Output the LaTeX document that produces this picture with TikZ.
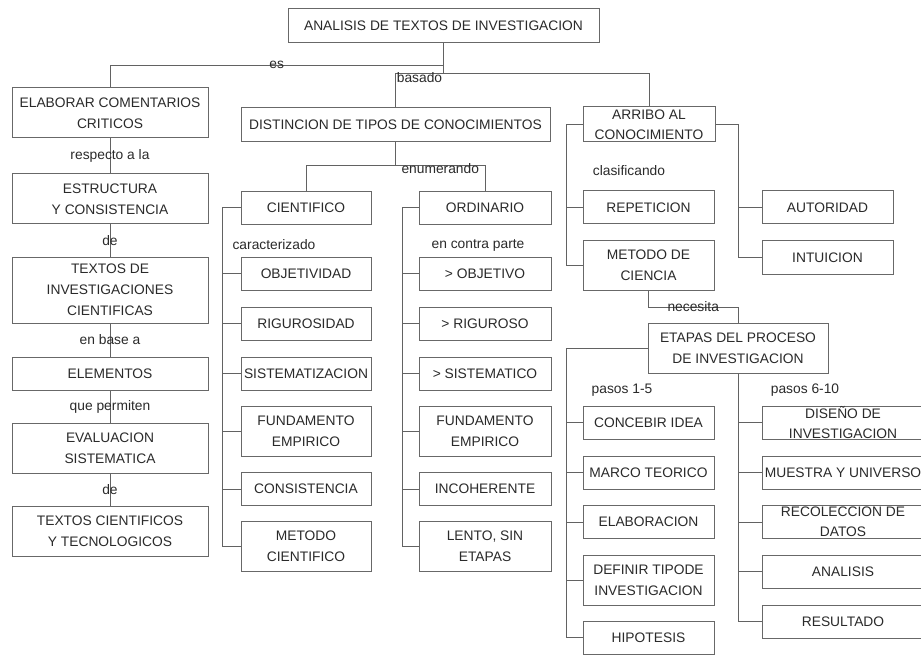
\documentclass[tikz,border=0pt]{standalone}
\usepackage{fontspec}
\setmainfont{Liberation Sans}
\begin{document}
\newcommand\mapfont{\fontsize{13.8}{21}\selectfont}
\definecolor{bdc}{HTML}{686868}
\definecolor{lnc}{HTML}{626262}
\definecolor{txc}{HTML}{2A2A2A}
\begin{tikzpicture}[x=1pt,y=-1pt,
  every node/.style={font=\mapfont, text=txc},
  box/.style={draw=bdc, line width=1pt, inner sep=0pt, align=center},
  frame/.style={draw=bdc, line width=1pt, inner sep=0pt},
  btext/.style={inner sep=0pt, align=center},
  link/.style={draw=lnc, line width=1pt},
  lbl/.style={inner sep=0pt},
  sz/.style 2 args={minimum width=#1pt, minimum height=#2pt},
]
\fill[white] (0,0) rectangle (921,655);
\useasboundingbox (0,0) rectangle (921,655);
\clip (0,0) rectangle (921,655);

% root
\node[box,sz={311}{34}] (top) at (443.5,26) {ANALISIS DE TEXTOS DE INVESTIGACION};

% left chain
\node[box,sz={196}{50}] (elab)   at (110,113)   {ELABORAR COMENTARIOS\\CRITICOS};
\node[box,sz={196}{50}] (estr)   at (110,199)   {ESTRUCTURA\\Y CONSISTENCIA};
\node[box,sz={196}{66}] (txinv)  at (110,290)   {TEXTOS DE\\INVESTIGACIONES\\CIENTIFICAS};
\node[box,sz={196}{33}] (elem)   at (110,373.5) {ELEMENTOS};
\node[box,sz={196}{50}] (eval)   at (110,448)   {EVALUACION\\SISTEMATICA};
\node[box,sz={196}{50}] (txcien) at (110,531)   {TEXTOS CIENTIFICOS\\Y TECNOLOGICOS};

% middle
\node[box,sz={309}{34}] (dist) at (395.5,125) {DISTINCION DE TIPOS DE CONOCIMIENTOS};

\node[box,sz={130}{33}] (cien) at (306,208)   {CIENTIFICO};
\node[box,sz={130}{33}] (objt) at (306,273.5) {OBJETIVIDAD};
\node[box,sz={130}{33}] (rigu) at (306,323.5) {RIGUROSIDAD};
\node[box,sz={130}{33}] (sist) at (306,373.5) {SISTEMATIZACION};
\node[box,sz={130}{50}] (fund) at (306,431)   {FUNDAMENTO\\EMPIRICO};
\node[box,sz={130}{33}] (cons) at (306,489)   {CONSISTENCIA};
\node[box,sz={130}{50}] (metc) at (306,546.5) {METODO\\CIENTIFICO};

\node[box,sz={132}{33}] (ord)  at (485,208)   {ORDINARIO};
\node[box,sz={132}{33}] (obj2) at (485,273.5) {> OBJETIVO};
\node[box,sz={132}{33}] (rig2) at (485,323.5) {> RIGUROSO};
\node[box,sz={132}{33}] (sis2) at (485,373.5) {> SISTEMATICO};
\node[box,sz={132}{50}] (fun2) at (485,431)   {FUNDAMENTO\\EMPIRICO};
\node[box,sz={132}{33}] (inco) at (485,489)   {INCOHERENTE};
\node[box,sz={132}{50}] (lent) at (485,546.5) {LENTO, SIN\\ETAPAS};

% right
\node[frame,sz={132}{35}] (arr) at (649,124.5) {};
\node[btext] (arrt) at (arr.center) {ARRIBO AL\\[-1pt]CONOCIMIENTO};

\node[box,sz={131}{33}] (rep)   at (648.5,207.5) {REPETICION};
\node[box,sz={131}{50}] (mcien) at (648.5,265.5) {METODO DE\\CIENCIA};
\node[box,sz={131}{33}] (auto)  at (827.5,207.5) {AUTORIDAD};
\node[box,sz={131}{33}] (intu)  at (827.5,257.5) {INTUICION};

\node[box,sz={180}{50}] (etap) at (738,348) {ETAPAS DEL PROCESO\\DE INVESTIGACION};

\node[box,sz={131}{33}] (conc)  at (648.5,422.5) {CONCEBIR IDEA};
\node[box,sz={131}{33}] (marc)  at (648.5,472.5) {MARCO TEORICO};
\node[box,sz={131}{33}] (elabo) at (648.5,522)   {ELABORACION};
\node[box,sz={131}{50}] (defi)  at (648.5,580)   {DEFINIR TIPODE\\INVESTIGACION};
\node[box,sz={131}{33}] (hipo)  at (648.5,637.5) {HIPOTESIS};

\node[frame,sz={162}{33}] (dise) at (843,422.5) {};
\node[btext] (diset) at (dise.center) {DISEÑO DE\\[-1pt]INVESTIGACION};
\node[box,sz={162}{33}] (mues) at (843,472.5) {MUESTRA Y UNIVERSO};
\node[frame,sz={162}{33}] (reco) at (843,522) {};
\node[btext] (recot) at (reco.center) {RECOLECCION DE\\[-1pt]DATOS};
\node[box,sz={162}{33}] (anal) at (843,571.5) {ANALISIS};
\node[box,sz={162}{33}] (resu) at (843,621.5) {RESULTADO};

% free-standing linking words
\node[lbl] (carac)  at (274,245) {caracterizado};
\node[lbl] (contra) at (478,245) {en contra parte};
\node[lbl] (clasif) at (629,171) {clasificando};
\node[lbl] (p15)    at (622,390) {pasos 1-5};
\node[lbl] (p610)   at (805,390) {pasos 6-10};

% connectors from the root
\draw[link] (top.south) -- ++(0,22) -| node[lbl,pos=0.25,yshift=1pt]{es} (elab.north);
\draw[link] (top.south) -- ++(0,30) -| node[lbl,pos=0.25,yshift=-4pt]{basado} (dist.north);
\draw[link] (top.south) -- ++(0,30) -| (arr.north);

% left chain
\draw[link] (elab) -- node[lbl]{respecto a la} (estr);
\draw[link] (estr) -- node[lbl]{de} (txinv);
\draw[link] (txinv) -- node[lbl]{en base a} (elem);
\draw[link] (elem) -- node[lbl]{que permiten} (eval);
\draw[link] (eval) -- node[lbl]{de} (txcien);

% kinds of knowledge
\draw[link] (dist.south) -- ++(0,23) -| (cien.north);
\draw[link] (dist.south) -- ++(0,23) -| node[lbl,pos=0.25,yshift=-3pt]{enumerando} (ord.north);

\draw[link] (cien.west) -- ++(-18,0) |- (metc.west);
\foreach \n in {objt,rigu,sist,fund,cons} \draw[link] (\n.west) -- ++(-18,0);
\draw[link] (ord.west) -- ++(-16,0) |- (lent.west);
\foreach \n in {obj2,rig2,sis2,fun2,inco} \draw[link] (\n.west) -- ++(-16,0);

% ways of knowing
\draw[link] (arr.west) -- ++(-16,0) |- (mcien.west);
\draw[link] (rep.west) -- ++(-16,0);
\draw[link] (arr.east) -- ++(23,0) |- (intu.west);
\draw[link] (auto.west) -- ++(-23,0);

\draw[link] (mcien.south) -- ++(0,16) -| node[lbl,pos=0.25]{necesita} (etap.north);

% research stages
\draw[link] (etap.west) -- ++(-81,0) |- (hipo.west);
\foreach \n in {conc,marc,elabo,defi} \draw[link] (\n.west) -- ++(-16,0);
\draw[link] (etap.south) |- (resu.west);
\foreach \n in {dise,mues,reco,anal} \draw[link] (\n.west) -- ++(-24,0);
\end{tikzpicture}
\end{document}
